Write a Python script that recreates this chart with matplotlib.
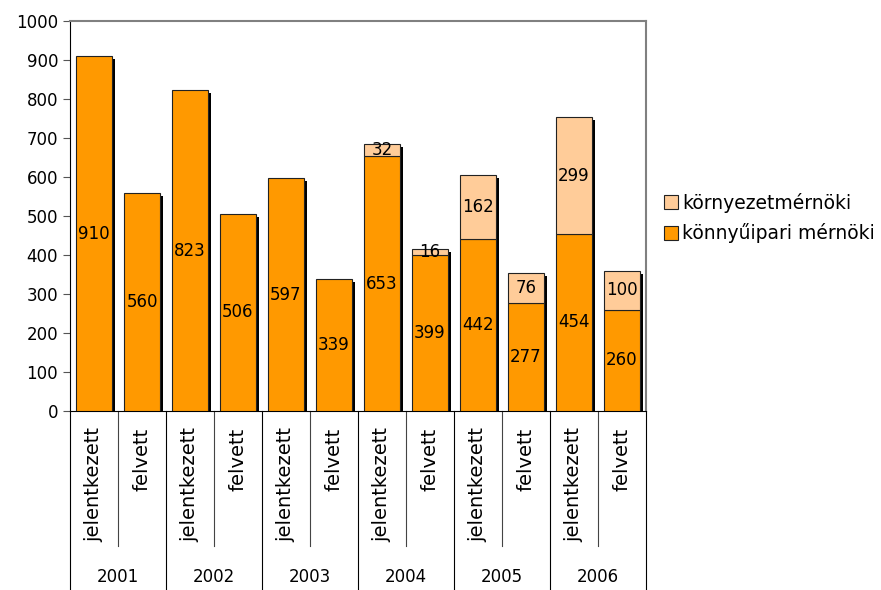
import numpy as np
import matplotlib
matplotlib.use("Agg")
from matplotlib import pyplot as plt
from matplotlib import patheffects
from matplotlib.transforms import blended_transform_factory

years = ["2001", "2002", "2003", "2004", "2005", "2006"]
kinds = ["jelentkezett", "felvett"]
konnyuipari = [910, 560, 823, 506, 597, 339, 653, 399, 442, 277, 454, 260]
kornyezet = [0, 0, 0, 0, 0, 0, 32, 16, 162, 76, 299, 100]

orange = "#FF9900"
light = "#FFCC99"

plt.rcParams["font.family"] = "DejaVu Sans"
plt.rcParams["font.size"] = 12

fig = plt.figure(figsize=(8.81, 5.90), dpi=100)
ax = fig.add_axes([70 / 881, 1 - 411 / 590, 576 / 881, 390 / 590])

x = np.arange(len(konnyuipari))
low = np.array(konnyuipari)
high = np.array(kornyezet)
w = 0.73

# black drop shadow behind each whole column
shadow = [patheffects.SimplePatchShadow(offset=(2.2, -2.2), shadow_rgbFace="black", alpha=1.0)]
sb = ax.bar(x, low + high, w, color="none", edgecolor="none")
for p in sb:
    p.set_path_effects(shadow)

b1 = ax.bar(x, low, w, color=orange, edgecolor="#222222", linewidth=0.8,
            label="könnyűipari mérnöki", zorder=3)
m = high > 0
b2 = ax.bar(x[m], high[m], w, bottom=low[m], color=light, edgecolor="#222222",
            linewidth=0.8, label="környezetmérnöki", zorder=3)

for xi, v in zip(x, low):
    ax.text(xi, v / 2, str(v), ha="center", va="center", zorder=4)
for xi, b, v in zip(x[m], low[m], high[m]):
    ax.text(xi, b + v / 2, str(v), ha="center", va="center", zorder=4)

ax.set_xlim(-0.5, len(x) - 0.5)
ax.set_ylim(0, 1000)
ax.set_yticks(range(0, 1001, 100))
ax.tick_params(axis="y", direction="out", length=5, color="#555555")
ax.tick_params(axis="x", bottom=False, labelbottom=False)
ax.spines["top"].set_color("#808080")
ax.spines["right"].set_color("#808080")
ax.spines["top"].set_linewidth(1.5)
ax.spines["right"].set_linewidth(1.5)

# two-level category axis: kind labels, then years
tr = blended_transform_factory(ax.transData, ax.transAxes)
for i, xi in enumerate(x):
    ax.text(xi, -0.042, kinds[i % 2], rotation=90, ha="center", va="top",
            fontsize=14, transform=tr, clip_on=False)
for k in range(len(x) + 1):
    xs = k - 0.5
    y0 = -0.46 if k % 2 == 0 else -0.345
    ax.plot([xs, xs], [0, y0], color="black" if k % 2 == 0 else "#444444",
            lw=0.8, transform=tr, clip_on=False)
for j, yr in enumerate(years):
    ax.text(2 * j + 0.5, -0.426, yr, ha="center", va="center", transform=tr,
            clip_on=False)

handles = [b2, b1]
fig.legend(handles, [h.get_label() for h in handles], loc="center left",
           bbox_to_anchor=(656 / 881, 1 - 218 / 590), frameon=False,
           fontsize=13.5, handlelength=0.75, handleheight=0.75,
           handletextpad=0.25, labelspacing=0.58, borderaxespad=0)

fig.savefig("out.png", dpi=100)
